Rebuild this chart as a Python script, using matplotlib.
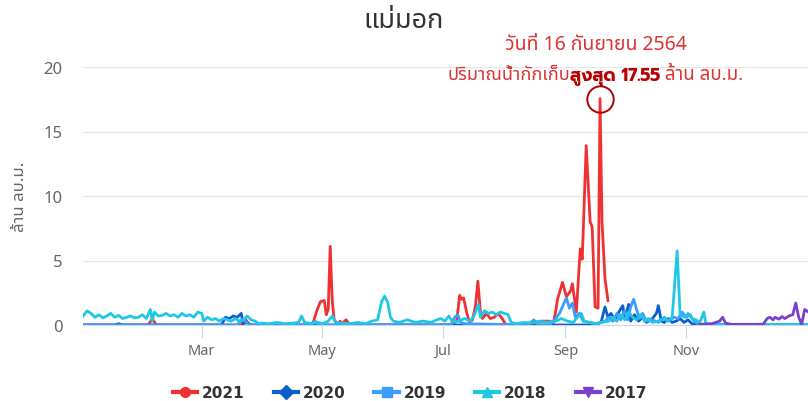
import matplotlib
matplotlib.use("Agg")
import matplotlib.pyplot as plt
from matplotlib.lines import Line2D

# day of year / million m3
days_2021 = [0, 33, 35, 37, 80, 82, 84, 116, 118, 120, 122, 123, 124, 125, 126, 127, 129, 130, 131, 133, 135,
             186, 189, 190.5, 191.5, 192.5, 194, 195.5, 197, 198.5, 199.7, 201, 202, 204, 206, 208, 210, 212, 214,
             226, 228, 232, 236, 238, 239, 240, 242.5, 244.5, 246.5, 247.5, 249.5, 251.5, 252.5, 254.5, 256.5,
             257.5, 259, 260.5, 261.5, 262.5, 264, 265.5]
vals_2021 = [0, 0, 0.5, 0, 0, 0.5, 0, 0, 1.0, 1.8, 1.9, 0.8, 1.2, 6.1, 2.0, 0.4, 0, 0.3, 0.1, 0.4, 0,
             0, 0.3, 2.3, 2.0, 2.1, 1.0, 0.2, 0.4, 1.5, 3.4, 1.0, 0.5, 0.9, 0.5, 0.6, 0.9, 0.5, 0,
             0, 0.2, 0.3, 0.3, 0.2, 1.0, 2.0, 3.3, 2.2, 2.6, 3.2, 1.0, 5.9, 5.1, 13.9, 8.0,
             7.6, 1.4, 1.3, 17.55, 8.0, 3.6, 1.9]

days_2020 = [0, 16, 18, 20, 70, 72, 74, 76, 78, 80, 81, 83, 85, 240, 258, 262, 264, 265.5, 267, 269, 271, 273,
             274, 276, 277, 279, 281, 283, 285, 288, 290, 291, 292.5, 294, 296, 298, 300, 302, 304, 306, 308, 312]
vals_2020 = [0, 0, 0.1, 0, 0, 0.6, 0.5, 0.7, 0.6, 0.9, 0.1, 0.2, 0, 0, 0, 0.2, 1.4, 0.6, 0.9, 0.4, 1.0, 1.5,
             0.5, 1.6, 0.3, 0.8, 0.3, 0.6, 0.2, 0.5, 0.9, 1.5, 0.3, 0.2, 0.5, 0.2, 0.3, 0.5, 0.2, 0.4, 0.1, 0]

days_2019 = [0, 78, 80, 82, 84, 115, 117, 119, 186, 188, 189.5, 191, 193, 225, 228, 230, 236, 239, 241, 243,
             244.5, 246, 247.5, 249, 251, 253, 256, 260, 264, 266, 268, 270, 272, 274, 275.5, 277, 278.5, 280,
             281.5, 283, 285, 288, 291, 294, 296, 299, 301, 303, 305, 307, 309, 311, 314]
vals_2019 = [0, 0, 0.4, 0.3, 0, 0, 0.3, 0, 0, 0.6, 0.8, 0.2, 0.1, 0, 0.4, 0, 0, 0.5, 0.9, 1.6,
             2.1, 1.3, 1.7, 0.6, 0.9, 0.3, 0.2, 0.1, 0.3, 0.6, 0.3, 0.9, 0.4, 1.1, 0.4, 1.4, 2.0, 1.2,
             0.5, 0.9, 0.3, 0.4, 0.2, 0.6, 0.3, 0.6, 0.5, 1.0, 0.6, 0.8, 0.3, 0.1, 0]

days_2018 = [0, 2, 4, 6, 8, 10, 12, 14, 16, 18, 20, 22, 24, 26, 28, 30, 32, 34, 35, 36, 38, 40, 42, 44, 46, 48,
             50, 52, 54, 56, 58, 60, 61, 63, 65, 67, 69, 71, 73, 75, 77, 79, 81, 83, 85, 87, 89, 90, 94, 98,
             102, 106, 109, 110.5, 112, 116, 118, 121, 124, 126, 128, 131, 135, 139, 143, 146, 149, 151, 152.5,
             154, 155.5, 157, 160, 164, 168, 172, 176, 179, 181, 183, 185, 187, 190, 193, 196, 198, 200, 201,
             203, 205, 207, 209, 211, 213, 215, 216.5, 219, 223, 227, 231, 235, 239, 242, 245, 248, 250, 252,
             253.5, 256, 259, 262, 266, 268, 270, 272, 274, 276, 278, 280, 282, 284, 286, 288, 291, 294, 296,
             298, 300.5, 302, 304, 306, 308, 310, 312, 314, 315, 318, 367]
vals_2018 = [0.7, 1.1, 0.9, 0.6, 0.8, 0.55, 0.7, 0.9, 0.6, 0.75, 0.5, 0.6, 0.7, 0.55, 0.6, 0.8, 0.5, 1.2, 0.3,
             1.0, 0.7, 0.75, 0.9, 0.7, 0.8, 0.6, 0.9, 0.7, 0.8, 0.6, 1.0, 0.9, 0.3, 0.6, 0.4, 0.5, 0.3, 0.5,
             0.4, 0.3, 0.5, 0.3, 0.4, 0.7, 0.4, 0.3, 0.1, 0.15, 0.1, 0.2, 0.1, 0.15, 0.2, 0.7, 0.2, 0.1, 0.25,
             0.1, 0.3, 0.7, 0.2, 0.15, 0.1, 0.2, 0.1, 0.3, 0.4, 1.8, 2.25, 1.8, 0.6, 0.3, 0.2, 0.4, 0.2, 0.3,
             0.2, 0.4, 0.5, 0.3, 0.7, 0.2, 0.3, 0.5, 0.3, 0.8, 1.6, 0.6, 1.1, 0.9, 1.0, 0.8, 1.0, 0.9, 0.8,
             0.2, 0.1, 0.2, 0.15, 0.3, 0.2, 0.3, 0.5, 0.3, 0.2, 0.6, 0.9, 0.3, 0.2, 0.1, 0.2, 0.3, 0.6, 0.3,
             0.8, 0.4, 1.0, 0.6, 0.4, 0.8, 0.3, 0.5, 0.2, 0.3, 0.5, 0.3, 0.6, 5.75, 0.8, 0.6, 0.9, 0.5, 0.4,
             0.2, 1.0, 0.1, 0.05, 0.05]

days_2017 = [312, 318, 322, 323.5, 325, 328, 344, 346, 347.5, 349, 350, 352, 353.5, 355, 357, 359, 360.5, 362,
             363.5, 365, 367]
vals_2017 = [0.05, 0.1, 0.3, 0.6, 0.15, 0.05, 0.05, 0.5, 0.6, 0.4, 0.6, 0.45, 0.65, 0.5, 0.7, 0.8, 1.7, 0.6,
             0.05, 1.2, 1.0]

years = ['2021', '2020', '2019', '2018', '2017']
colors = ['#f03131', '#0c5fc8', '#3d9cff', '#1ec8e4', '#7a3fcb']
markers = ['o', 'D', 's', '^', 'v']
series = [(days_2021, vals_2021), (days_2020, vals_2020), (days_2019, vals_2019),
          (days_2018, vals_2018), (days_2017, vals_2017)]

month_days = [60, 121, 182, 244, 305]
month_labels = ['Mar', 'May', 'Jul', 'Sep', 'Nov']

thai = ['Noto Sans Thai', 'Noto Sans', 'DejaVu Sans']
plt.rcParams['font.family'] = thai
plt.rcParams['ytick.major.pad'] = 15

fig = plt.figure(figsize=(8.08, 4.02), dpi=100)
ax = fig.add_axes([83.1 / 808, 76 / 402, 1 - 83.1 / 808, 258 / 402])

for i, (d, v) in enumerate(series):
    ax.plot(d, v, color=colors[i], lw=2.0, zorder=3 + i, solid_joinstyle='round')

# circle round the peak
ax.plot([days_2021[vals_2021.index(max(vals_2021))]], [max(vals_2021)], marker='o', ms=19,
        mfc='none', mec='#b00000', mew=1.4, zorder=10, clip_on=False)

ax.set_xlim(0, 366.7)
ax.set_ylim(0, 20)
ax.set_yticks([0, 5, 10, 15, 20])
ax.set_xticks(month_days)
ax.set_xticklabels(month_labels)
ax.grid(axis='y', color='#e6e6e6', lw=1)
ax.set_axisbelow(True)
for s in ['top', 'right', 'left']:
    ax.spines[s].set_visible(False)
ax.spines['bottom'].set_color('#ccd6eb')
ax.tick_params(axis='y', length=0, labelsize=12, labelcolor='#666666')
ax.tick_params(axis='x', length=9, color='#ccd6eb', pad=4, labelsize=10.5, labelcolor='#666666')
ax.yaxis.set_tick_params(pad=15)
ax.set_ylabel('ล้าน ลบ.ม.', fontsize=12, color='#666666')
ax.yaxis.set_label_coords(-55 / 725, 0.5)

fig.text(0.5, 1 - 21 / 402, 'แม่มอก', ha='center', va='center', fontsize=19.5, color='#333333')

# annotation texts
fig.text(596 / 808, 1 - 45 / 402, 'วันที่ 16 กันยายน 2564', ha='center', va='center',
         fontsize=14, color='#dd3333')
base_y = 1 - 80 / 402
t1 = fig.text(447 / 808, base_y, 'ปริมาณน้ำกักเก็บ', ha='left', va='baseline',
              fontsize=13, color='#dd3333')
t2 = ax.annotate('สูงสุด 17.55', xy=(1, base_y), xycoords=(t1, 'figure fraction'), va='baseline', ha='left',
                 fontsize=12.5, color='#b80000', fontweight='bold', family=['Prompt', 'Noto Sans'])
t3 = ax.annotate(' ล้าน ลบ.ม.', xy=(1, base_y), xycoords=(t2, 'figure fraction'), va='baseline', ha='left',
                 fontsize=13.5, color='#dd3333')

handles = [Line2D([0], [0], color=colors[i], lw=3, marker=markers[i], ms=7) for i in range(5)]
leg = fig.legend(handles, years, loc='center', bbox_to_anchor=(410 / 808, 1 - 394 / 402), ncol=5, frameon=False,
                 handlelength=1.6, columnspacing=1.9, handletextpad=0.3,
                 prop={'family': 'DejaVu Sans', 'size': 11, 'weight': 'bold'})
for t in leg.get_texts():
    t.set_color('#333333')

fig.savefig('out.png', dpi=100)
